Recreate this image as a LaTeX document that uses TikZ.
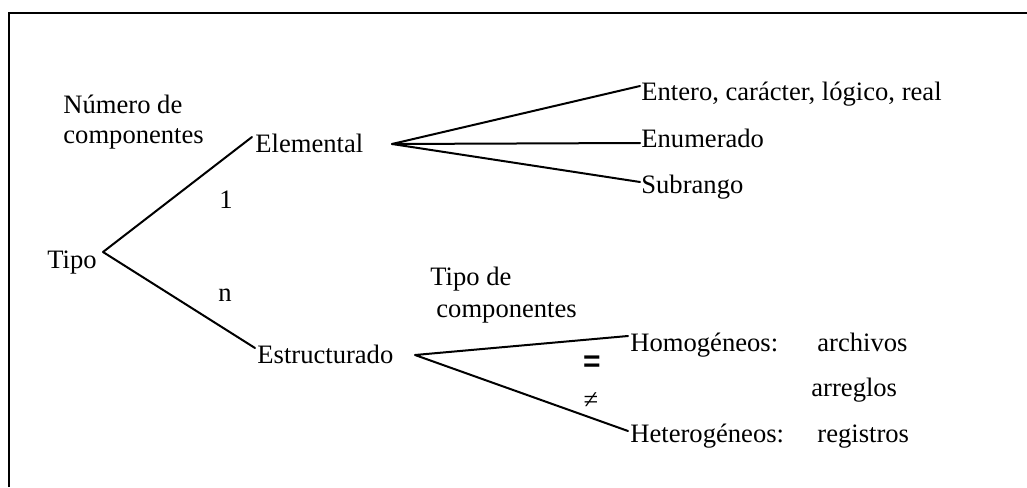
\documentclass[tikz,border=0pt]{standalone}
\usepackage{fontspec}
\setmainfont{Liberation Serif}
\newfontfamily\sansbold{Liberation Sans}
\begin{document}
\begin{tikzpicture}[x=0.5pt,y=-0.5pt,
  lbl/.style={anchor=base west,inner sep=0pt,font=\fontsize{13.3pt}{15pt}\selectfont},
  conn/.style={line width=1pt,line cap=round,line join=round},
  frame/.style={line width=1.1pt}]
\useasboundingbox (0,0) rectangle (1027,487);
% frame (partial)
\coordinate (fbl) at (9,487);
\coordinate (ftl) at (9,13);
\coordinate (ftr) at (1027,13);
\draw[frame] (fbl) -- (ftl) -- (ftr);
% texts
\node[lbl] (nc1) at (63,113) {Número de};
\node[lbl] (nc2) at (63,143) {componentes};
\node[lbl] (tipo) at (47,268) {Tipo};
\node[lbl] (elem) at (255,152) {Elemental};
\node[lbl] (estr) at (257,363) {Estructurado};
\node[lbl] (uno) at (219,208) {1};
\node[lbl] (ene) at (218,301) {n};
\node[lbl] (ent) at (641,100) {Entero, carácter, lógico, real};
\node[lbl] (enu) at (641,147) {Enumerado};
\node[lbl] (sub) at (641,193) {Subrango};
\node[lbl] (tc1) at (430,285) {Tipo de};
\node[lbl] (tc2) at (436,317) {componentes};
\node[lbl] (hom) at (630,351) {Homogéneos:};
\node[lbl] (arc) at (817,351) {archivos};
\node[lbl] (arr) at (811,396) {arreglos};
\node[lbl] (het) at (630,442) {Heterogéneos:};
\node[lbl] (reg) at (817,442) {registros};
\node[inner sep=0pt,font=\sansbold\bfseries\fontsize{15pt}{15pt}\selectfont] (eq) at (592,364) {=};
\node[inner sep=0pt,font=\fontsize{13.3pt}{15pt}\selectfont] (neq) at (591,401) {≠};
% connector end points
\coordinate (tipoV) at (103,252);
\coordinate (elemIn) at (252,137);
\coordinate (estrIn) at (255,348);
\coordinate (elemV) at (392,144);
\coordinate (entIn) at (640,86);
\coordinate (enuIn) at (640,143);
\coordinate (subIn) at (640,182);
\coordinate (estrV) at (415,355);
\coordinate (homIn) at (628,336);
\coordinate (hetIn) at (628,431);
% connectors
\draw[conn] (elemIn) -- (tipoV) -- (estrIn);
\draw[conn] (entIn) -- (elemV) -- (subIn);
\draw[conn] (elemV) -- (enuIn);
\draw[conn] (homIn) -- (estrV) -- (hetIn);
\end{tikzpicture}
\end{document}
